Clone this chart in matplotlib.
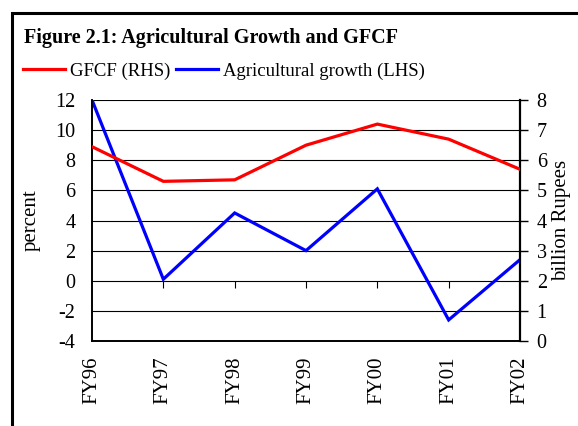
import matplotlib
matplotlib.use("Agg")
import matplotlib.pyplot as plt
from matplotlib.lines import Line2D
from matplotlib.patches import Rectangle
import numpy as np

plt.rcParams["font.family"] = ["Liberation Serif", "DejaVu Serif"]
plt.rcParams["axes.unicode_minus"] = False

# ---- data -----------------------------------------------------------------
years = ["FY96", "FY97", "FY98", "FY99", "FY00", "FY01", "FY02"]
agri_growth = [12.0, 0.1, 4.5, 2.0, 6.1, -2.6, 1.4]      # percent, LHS
gfcf = [6.45, 5.3, 5.35, 6.5, 7.2, 6.7, 5.7]              # billion Rupees, RHS

left_ticks = [-4, -2, 0, 2, 4, 6, 8, 10, 12]
right_ticks = [0, 1, 2, 3, 4, 5, 6, 7, 8]

RED = "#ff0000"
BLUE = "#0000ff"

fig = plt.figure(figsize=(5.78, 4.26), dpi=100)
ax = fig.add_axes([92 / 578, 85 / 426, 428 / 578, 241 / 426])
ax2 = ax.twinx()

x = np.arange(len(years))

ax.plot(x, agri_growth, color=BLUE, lw=2.3, zorder=4, solid_joinstyle="miter")
ax2.plot(x, gfcf, color=RED, lw=2.3, zorder=3, solid_joinstyle="miter")

ax.set_xlim(0, len(years) - 1)
ax.set_ylim(-4, 12)
ax2.set_ylim(0, 8)

ax.set_yticks(left_ticks)
ax.set_yticklabels([str(t) for t in left_ticks])
ax2.set_yticks(right_ticks)
ax2.set_yticklabels([str(t) for t in right_ticks])

ax.grid(axis="y", color="black", lw=0.8)
ax.set_axisbelow(True)

ax.set_xticks(x)
ax.set_xticklabels(years, rotation=90, fontsize=15)
ax.tick_params(axis="x", length=0, pad=11)
ax.tick_params(axis="y", length=0, pad=12, labelsize=14.5)
ax2.tick_params(axis="y", length=6, width=1, pad=6, labelsize=14.5, direction="out")

# small category ticks where the x axis crosses zero
ax.vlines(x[1:-1], -0.45, 0, color="black", lw=0.8, zorder=2)

for a in (ax, ax2):
    a.spines["top"].set_visible(False)
    for side in ("left", "right", "bottom"):
        a.spines[side].set_linewidth(1.2)
        a.spines[side].set_color("black")
ax2.spines["right"].set_linewidth(1.6)

ax.set_ylabel("percent", fontsize=15, labelpad=10)
ax2.set_ylabel("billion Rupees", fontsize=15, labelpad=4)

fig.text(24 / 578, 1 - 38 / 426, "Figure 2.1: Agricultural Growth and GFCF",
         fontsize=14.5, fontweight="bold", va="center", ha="left")

handles = [Line2D([], [], color=RED, lw=2.3), Line2D([], [], color=BLUE, lw=2.3)]
fig.legend(handles, ["GFCF (RHS)", "Agricultural growth (LHS)"], loc="center left",
           bbox_to_anchor=(23 / 578, 1 - 71 / 426), ncol=2, frameon=False,
           fontsize=13.5, handlelength=2.25, handletextpad=0.27, columnspacing=0.27,
           borderpad=0, borderaxespad=0)

# outer frame (left and top edges visible)
fig.patches.append(Rectangle((12 / 578, -0.1), 1.0, 1.1 - 13 / 426, transform=fig.transFigure,
                             fill=False, edgecolor="black", lw=2.2, zorder=10))

fig.savefig("out.png", dpi=100)
